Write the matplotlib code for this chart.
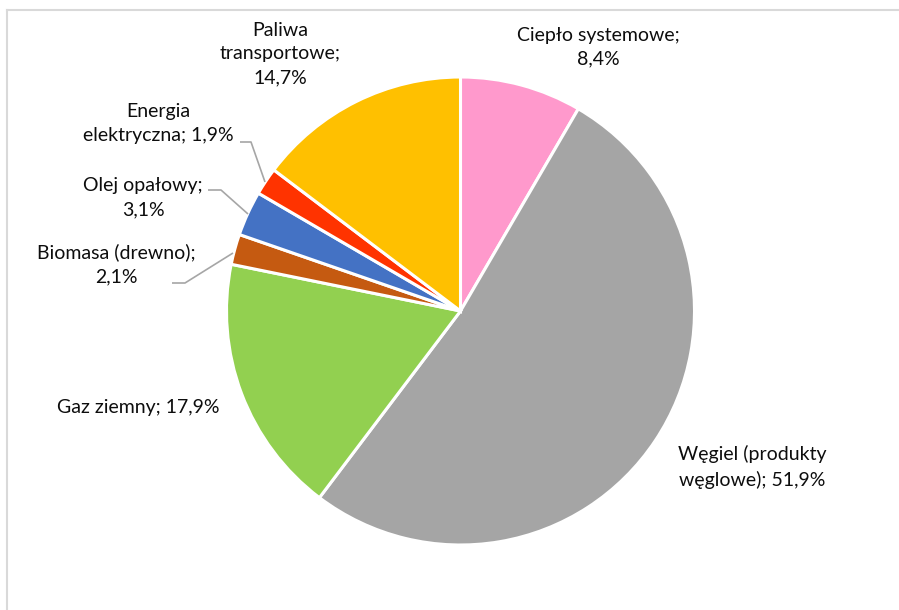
import matplotlib
matplotlib.use("Agg")
import matplotlib.pyplot as plt
from matplotlib.lines import Line2D

plt.rcParams['font.family'] = ['Lato', 'DejaVu Sans']

# Struktura zużycia energii końcowej
categories = ["Ciepło systemowe", "Węgiel (produkty węglowe)", "Gaz ziemny",
              "Biomasa (drewno)", "Olej opałowy", "Energia elektryczna",
              "Paliwa transportowe"]
shares = [8.4, 51.9, 17.9, 2.1, 3.1, 1.9, 14.7]
colors = ["#FF99CC", "#A5A5A5", "#92D050", "#C55A11", "#4472C4", "#FF3300", "#FFC000"]

# label line breaks ("{v}" is replaced by the formatted share)
label_templates = [
    "Ciepło systemowe;\n{v}",
    "Węgiel (produkty\nwęglowe); {v}",
    "Gaz ziemny; {v}",
    "Biomasa (drewno);\n{v}",
    "Olej opałowy;\n{v}",
    "Energia\nelektryczna; {v}",
    "Paliwa\ntransportowe;\n{v}",
]

W, H = 899, 610
fig = plt.figure(figsize=(W / 100, H / 100), dpi=100)
ax = fig.add_axes([0, 0, 1, 1])

cx, cy, r = 460.5, H - 311, 234
wedges, _ = ax.pie(shares, colors=colors, startangle=90, counterclock=False,
                   center=(cx, cy), radius=r,
                   wedgeprops=dict(edgecolor="white", linewidth=2.2))

ax.set_xlim(0, W)
ax.set_ylim(0, H)
ax.set_aspect("equal")
ax.axis("off")


def fmt(v):
    return f"{v:.1f}".replace(".", ",") + "%"


# label positions (pixel coords, origin top-left)
label_pos = [
    (598, 47),
    (752, 467),
    (138, 408),
    (116, 264),
    (143, 198),
    (158, 124),
    (280, 54),
]
# leader lines for the small slices
leaders = {
    3: [(172, 283), (185, 283), (233, 253)],
    4: [(208, 190), (221, 190), (248, 214)],
    5: [(240, 142), (251, 142), (265, 182)],
}

for i, (tmpl, (x, y)) in enumerate(zip(label_templates, label_pos)):
    ax.text(x, H - y, tmpl.format(v=fmt(shares[i])), ha="center", va="center",
            multialignment="center", fontsize=14, color="#0d0d0d",
            linespacing=1.5)

for pts in leaders.values():
    xs = [p[0] for p in pts]
    ys = [H - p[1] for p in pts]
    ax.plot(xs, ys, color="#A6A6A6", lw=1.2, solid_capstyle="butt")

# chart area border (top and left edges are visible)
fig.add_artist(Line2D([7 / W, 1], [1 - 10 / H, 1 - 10 / H], color="#D9D9D9", lw=1.5))
fig.add_artist(Line2D([7 / W, 7 / W], [0, 1 - 10 / H], color="#D9D9D9", lw=1.5))

fig.savefig("out.png", dpi=100, facecolor="white")
